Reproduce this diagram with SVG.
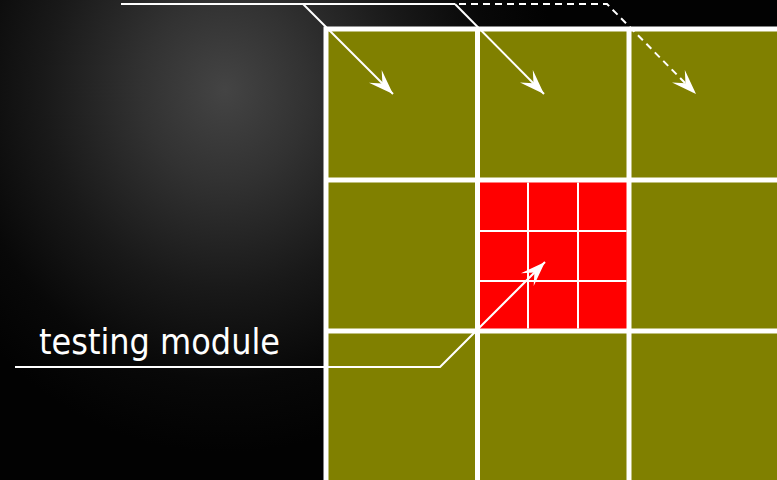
<svg xmlns="http://www.w3.org/2000/svg" width="777" height="480" viewBox="0 0 777 480">
<style>
.olive{fill:#808000}
.red{fill:#ff0000}
.thin{stroke:#ffffff;stroke-width:2;fill:none}
.conn{stroke:#ffffff;stroke-width:2;fill:none}
.dash{stroke-dasharray:7 5}
.label{font-family:"DejaVu Sans","Liberation Sans",sans-serif;font-size:36px;fill:#ffffff}
</style>
<defs>
<radialGradient id="bg" gradientUnits="userSpaceOnUse" cx="225" cy="90" r="330" gradientTransform="translate(225 90) scale(1 1.1) translate(-225 -90)">
<stop offset="0" stop-color="#444444"/>
<stop offset="0.25" stop-color="#323232"/>
<stop offset="0.55" stop-color="#191919"/>
<stop offset="0.8" stop-color="#080808"/>
<stop offset="1" stop-color="#020202"/>
</radialGradient>
<marker id="arr" markerUnits="userSpaceOnUse" markerWidth="30" markerHeight="24" viewBox="-26 -12 30 24" refX="0" refY="0" orient="auto">
<path d="M0,0 L-25,-9 L-15,0 L-25,9 Z" fill="#ffffff"/>
</marker>
</defs>
<rect x="0" y="0" width="777" height="480" fill="url(#bg)"/>
<rect x="323.5" y="26.5" width="460" height="460" fill="#ffffff"/>
<g id="cell-r1c1"><rect class="olive" x="328.5" y="31.5" width="146.5" height="146"/></g>
<g id="cell-r1c2"><rect class="olive" x="480" y="31.5" width="146.5" height="146"/></g>
<g id="cell-r1c3"><rect class="olive" x="631.5" y="31.5" width="150" height="146"/></g>
<g id="cell-r2c1"><rect class="olive" x="328.5" y="182.5" width="146.5" height="146"/></g>
<g id="testing-module">
<rect class="red" x="480" y="182.5" width="146.5" height="146"/>
<path class="thin" d="M528,182.5 V328.5 M578,182.5 V328.5 M480,231 H626.5 M480,281 H626.5"/>
</g>
<g id="cell-r2c3"><rect class="olive" x="631.5" y="182.5" width="150" height="146"/></g>
<g id="cell-r3c1"><rect class="olive" x="328.5" y="333.5" width="146.5" height="150"/></g>
<g id="cell-r3c2"><rect class="olive" x="480" y="333.5" width="146.5" height="150"/></g>
<g id="cell-r3c3"><rect class="olive" x="631.5" y="333.5" width="150" height="150"/></g>
<g id="connectors">
<path class="conn" d="M121,4 H455"/>
<path class="conn" d="M303,4 L393,94" marker-end="url(#arr)"/>
<path class="conn" d="M455,4 L544,94" marker-end="url(#arr)"/>
<path class="conn dash" d="M459,4 H607 L696,94" marker-end="url(#arr)"/>
<path class="conn" d="M15,367 H440 L545,262" marker-end="url(#arr)"/>
</g>
<g id="label-testing-module">
<text class="label" x="39" y="354" textLength="241" lengthAdjust="spacingAndGlyphs">testing module</text>
</g>
</svg>
